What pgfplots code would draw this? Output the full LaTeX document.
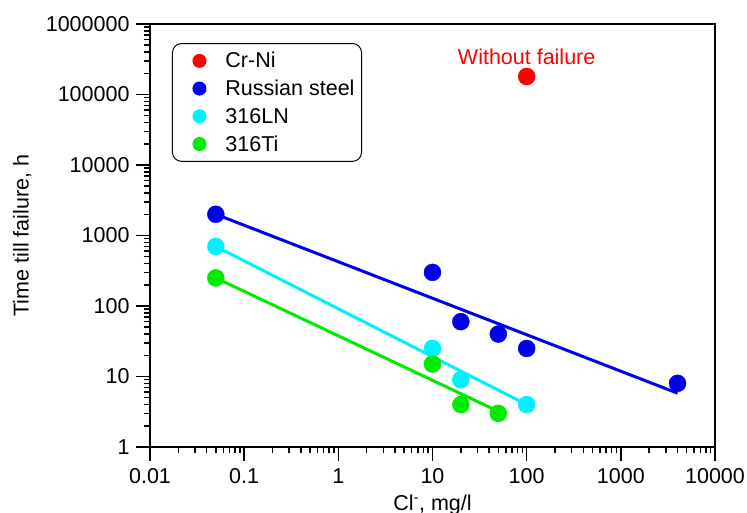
\documentclass[border=0pt]{standalone}
\usepackage{fontspec}
\setmainfont{Liberation Sans}
\usepackage{pgfplots}
\pgfplotsset{compat=1.18}
\definecolor{cRed}{RGB}{255,0,0}
\definecolor{cBlue}{RGB}{0,0,235}
\definecolor{cCyan}{RGB}{0,240,255}
\definecolor{cGreen}{RGB}{0,235,0}
\newcommand{\fsz}{\fontsize{21.5bp}{25bp}\selectfont}
\pgfplotsset{tickwidth=14bp, subtickwidth=6.5bp}
\begin{document}
\begin{tikzpicture}
\begin{axis}[
  scale only axis, width=565bp, height=423bp,
  xmode=log, ymode=log,
  xmin=0.01, xmax=10000, ymin=1, ymax=1000000,
  xtick={0.01,0.1,1,10,100,1000,10000},
  xticklabels={0.01,0.1,1,10,100,1000,10000},
  ytick={1,10,100,1000,10000,100000,1000000},
  yticklabels={1,10,100,1000,10000,100000,1000000},
  minor xtick={0.02,0.03,0.04,0.05,0.06,0.07,0.08,0.09,0.2,0.3,0.4,0.5,0.6,0.7,0.8,0.9,2,3,4,5,6,7,8,9,20,30,40,50,60,70,80,90,200,300,400,500,600,700,800,900,2000,3000,4000,5000,6000,7000,8000,9000},
  minor ytick={2,3,4,5,6,7,8,9,20,30,40,50,60,70,80,90,200,300,400,500,600,700,800,900,2000,3000,4000,5000,6000,7000,8000,9000,20000,30000,40000,50000,60000,70000,80000,90000,200000,300000,400000,500000,600000,700000,800000,900000},
  tick align=outside,
  tick pos=left,
  tickwidth=14bp, subtickwidth=6.5bp,
  tick style={black, line width=1.5bp},
  axis line style={line width=1.2bp, black},
  tick label style={font=\fsz, black},
  xticklabel style={yshift=-4bp},
  yticklabel style={xshift=-3bp},
  xlabel={Cl\textsuperscript{-}, mg/l},
  ylabel={Time till failure, h},
  every axis x label/.style={at={(axis description cs:0.5,-0.149)}, anchor=base, font=\fsz},
  every axis y label/.style={at={(axis description cs:-0.215,0.5)}, rotate=90, anchor=base, font=\fsz},
  legend style={at={(axis description cs:0.0389,0.955)}, anchor=north west, draw=black, line width=1bp,
    rounded corners=9bp, font=\fsz, inner xsep=0bp, inner ysep=3.5bp, row sep=0bp, column sep=0bp,
    nodes={inner ysep=0bp, inner xsep=7bp}},
  legend image code/.code={
    \path[draw=none, fill=none] (0bp,-13.85bp) rectangle (46bp,13.85bp);
    \draw[#1, mark size=6.5bp] plot coordinates {(27bp,0bp)};
  },
  legend cell align=left,
]
\addplot[cBlue, line width=3bp, forget plot] coordinates {(0.05,2000) (4000,5.8)};
\addplot[cCyan, line width=3bp, forget plot] coordinates {(0.05,700) (100,4)};
\addplot[cGreen, line width=3bp, forget plot] coordinates {(0.05,250) (50,3.2)};

\addplot[only marks, mark=*, mark size=8.5bp, draw=cRed, fill=cRed] coordinates {(100,180000)};
\addlegendentry{Cr-Ni}
\addplot[only marks, mark=*, mark size=8.5bp, draw=cBlue, fill=cBlue] coordinates {(0.05,2000) (10,300) (20,60) (50,40) (100,25) (4000,8)};
\addlegendentry{Russian steel}
\addplot[only marks, mark=*, mark size=8.5bp, draw=cCyan, fill=cCyan] coordinates {(0.05,700) (10,25) (20,9) (100,4)};
\addlegendentry{316LN}
\addplot[only marks, mark=*, mark size=8.5bp, draw=cGreen, fill=cGreen] coordinates {(0.05,250) (10,15) (20,4) (50,3)};
\addlegendentry{316Ti}

\node[text=cRed, font=\fsz, anchor=south] at (axis cs:100,180000) [yshift=8bp] {Without failure};
\end{axis}
\pgfresetboundingbox
\path[use as bounding box] (-150bp,-66bp) rectangle (597bp,447bp);
\end{tikzpicture}
\end{document}
